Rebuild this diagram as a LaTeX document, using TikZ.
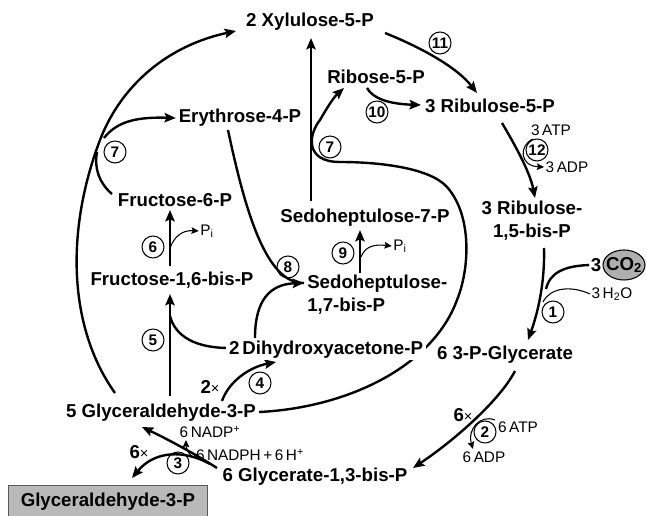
\documentclass[tikz,border=0pt]{standalone}
\usepackage{fontspec}
\setmainfont{Liberation Sans}
\usetikzlibrary{arrows.meta}
\definecolor{boxgray}{RGB}{185,185,185}
\definecolor{co2gray}{RGB}{175,175,175}
\begin{document}
\begin{tikzpicture}[x=0.75pt,y=-0.75pt,
  met/.style={font=\fontsize{14}{17}\selectfont\bfseries,inner sep=0pt},
  sm/.style={font=\fontsize{11.5}{13}\selectfont,inner sep=0pt},
  num/.style={circle,draw,line width=0.8pt,inner sep=0pt,minimum size=16.5pt,font=\fontsize{11.5}{12}\selectfont\bfseries},
  mainline/.style={line width=1.8pt},
  mainarr/.style={line width=1.8pt,-{Stealth[length=8.5pt,width=7pt,inset=1.5pt]}},
  thinline/.style={line width=0.8pt},
  thinarr/.style={line width=0.8pt,-{Stealth[length=5.5pt,width=5pt,inset=1pt]}}]
\useasboundingbox (0,0) rectangle (647,516);

% metabolites
\node[met] (xyl) at (310,22) {2 Xylulose-5-P};
\node[met] (rib) at (376,77) {Ribose-5-P};
\node[met] (ru5p) at (490,106) {3 Ribulose-5-P};
\node[met] (ery) at (240,118) {Erythrose-4-P};
\node[met] (f6p) at (175,200) {Fructose-6-P};
\node[met] (s7p) at (365,218) {Sedoheptulose-7-P};
\node[met,align=center] (rubp) at (532,221) {3 Ribulose-\\1,5-bis-P};
\node[met,align=left,anchor=west] (sbp) at (307,295) {Sedoheptulose-\\1,7-bis-P};
\node[met] (fbp) at (172,280) {Fructose-1,6-bis-P};
\node[met] (pga) at (505,355) {6 3-P-Glycerate};
\node[met] (g3p) at (161,413) {5 Glyceraldehyde-3-P};
\node[met] (bpg) at (315,477) {6 Glycerate-1,3-bis-P};
\node[met,draw=gray!70!black,line width=0.6pt,fill=boxgray,minimum width=149.25pt,minimum height=24pt,anchor=north west] (gbox) at (8,485) {Glyceraldehyde-3-P};

% cofactors
\node[sm] (atp3) at (551,130) {3\,ATP};
\node[sm] (adp3) at (567,167) {3\,ADP};
\node[sm] (atp6) at (518,427) {6\,ATP};
\node[sm] (adp6) at (484,457) {6\,ADP};
\node[sm] (nadp) at (210,432) {6\,NADP\textsuperscript{+}};
\node[sm] (nadph) at (250,455) {6\,NADPH\,+\,6\,H\textsuperscript{+}};
\node[sm] (pia) at (207,231) {P\textsubscript{i}};
\node[sm] (pib) at (400,246) {P\textsubscript{i}};
\node[sm] (h2o) at (612,294) {3\,H\textsubscript{2}O};
\node[met] (three) at (596,265) {3};
\coordinate (co2c) at (624,265);
\draw[fill=co2gray,line width=0.8pt] (co2c) ellipse [x radius=21, y radius=15];
\node[met] (co2) at (co2c) {CO\textsubscript{2}};
\node[met] (tb) at (210,387) {2{\mdseries\fontsize{11}{12}\selectfont×}};
\node[met] (tc) at (139,452) {6{\mdseries\fontsize{11}{12}\selectfont×}};
\node[met] (td) at (463,415) {6{\mdseries\fontsize{11}{12}\selectfont×}};

% enzyme numbers
\node[num] (n1) at (553,312) {1};
\node[num] (n2) at (485,432) {2};
\node[num] (n3) at (178,463) {3};
\node[num] (n4) at (260,383) {4};
\node[num] (n5) at (153,340) {5};
\node[num] (n6) at (153,247) {6};
\node[num] (n7a) at (115,152) {7};
\node[num] (n7b) at (330,147) {7};
\node[num] (n8) at (288,267) {8};
\node[num] (n9) at (343,253) {9};
\node[num] (n10) at (377,112) {10};
\node[num] (n11) at (440,43) {11};
\node[num] (n12) at (537,150) {12};

% junction coordinates
\coordinate (gA) at (115,393);
\coordinate (jB) at (100,140);
\coordinate (xylIn) at (236,31);
\coordinate (eryOut) at (104,138);
\coordinate (f6pOut) at (112,194);
\coordinate (f6pJoin) at (97,152);

% big arc G3P -> Xylulose (reaction 7, left)
\draw[mainarr] (gA) .. controls (70,330) and (64,235) .. (jB)
   .. controls (122,83) and (170,45) .. (xylIn);
\draw[mainarr] (eryOut) .. controls (118,120) and (140,117) .. ([xshift=-2pt]ery.west);
\draw[mainline] (f6pOut) .. controls (99,183) and (94,168) .. (f6pJoin);

% reaction 6
\coordinate (f6a) at (170,266);
\coordinate (f6b) at (170,248);
\draw[mainarr] (f6a) -- (170,210);
\draw[thinarr] (f6b) .. controls (174,237) and (182,230) .. ([xshift=-1pt]pia.west);

% reaction 5
\coordinate (g5) at (170,396);
\coordinate (f5) at (170,294);
\coordinate (d5) at (229,348);
\coordinate (m5) at (170,316);
\draw[mainarr] (g5) -- (f5);
\draw[mainline] (d5) .. controls (195,348) and (175,336) .. (m5);

% reaction 4
\coordinate (g4) at (222,401);
\coordinate (d4) at (276,362);
\draw[mainarr] (g4) .. controls (229,381) and (250,367) .. (d4);

% reaction 8
\coordinate (e8) at (228,130);
\coordinate (d8) at (255,338);
\coordinate (s8) at (304,283);
\draw[mainline] (e8) .. controls (245,210) and (266,284) .. (s8);
\draw[mainarr] (d8) .. controls (255,300) and (270,284) .. (s8);

% reaction 9
\coordinate (s9) at (360,273);
\coordinate (s9t) at (360,230);
\coordinate (p9) at (361,257);
\draw[mainarr] (s9) -- (s9t);
\draw[thinarr] (p9) .. controls (365,247) and (373,244) .. ([xshift=-1pt]pib.west);

% Sedoheptulose-7-P -> Xylulose
\coordinate (s7up) at (311,201);
\coordinate (xylB) at (311,38);
\draw[mainarr] (s7up) -- (xylB);

% reaction 7 (right loop)
\coordinate (gE) at (259,412);
\coordinate (l1) at (457,300);
\coordinate (l2) at (447,187);
\coordinate (l3) at (340,162);
\coordinate (l4) at (320,120);
\coordinate (ribIn) at (344,88);
\draw[mainarr] (gE) .. controls (345,408) and (432,368) .. (l1)
   .. controls (470,268) and (472,215) .. (l2)
   .. controls (430,168) and (380,162) .. (l3)
   .. controls (305,162) and (308,135) .. (l4)
   .. controls (327,108) and (333,98) .. (ribIn);

% DHAP label masks the loop behind it
\node[met,fill=white,inner xsep=2pt,inner ysep=1pt] (dhap) at (326,350) {2\,Dihydroxyacetone-P};

% reaction 10
\coordinate (r10) at (367,88);
\coordinate (u10) at (421,105);
\draw[mainarr] (r10) .. controls (373,99) and (390,104) .. (u10);

% reaction 11
\coordinate (x11) at (385,33);
\coordinate (u11) at (477,93);
\draw[mainarr] (x11) .. controls (415,45) and (455,65) .. (u11);

% reaction 12
\coordinate (u12) at (502,123);
\coordinate (b12) at (535,198);
\draw[mainarr] (u12) .. controls (515,145) and (530,172) .. (b12);
\coordinate (a12) at (533,139);
\draw[thinarr] (a12) .. controls (519,145) and (519,166) .. ([xshift=-1pt]adp3.west);

% reaction 1
\coordinate (b1) at (544,248);
\coordinate (p1) at (528,340);
\draw[mainarr] (b1) .. controls (545,285) and (537,315) .. (p1);
\coordinate (c1) at (546,289);
\draw[mainline] ([xshift=-1pt]three.west) .. controls (565,266) and (550,272) .. (c1);
\coordinate (w1) at (543,302);
\draw[thinline] ([xshift=-1pt]h2o.west) .. controls (570,285) and (550,288) .. (w1);

% reaction 2
\coordinate (p2) at (515,371);
\coordinate (b2) at (413,468);
\draw[mainarr] (p2) .. controls (500,400) and (455,440) .. (b2);
\coordinate (a2) at (495,420);
\coordinate (ad2) at (473,449);
\draw[thinarr] (a2) .. controls (480,414) and (467,430) .. (ad2);

% reaction 3
\coordinate (b3) at (217,468);
\coordinate (g3in) at (142,427);
\draw[mainarr] (b3) .. controls (192,452) and (165,438) .. (g3in);
\coordinate (h3) at (210,464);
\coordinate (box3) at (132,478);
\draw[mainarr] (h3) .. controls (185,450) and (155,450) .. (box3);
\coordinate (np3) at (192,457);
\coordinate (np3t) at (186,440);
\draw[thinarr] (np3) .. controls (188,452) and (186,448) .. (np3t);
\end{tikzpicture}
\end{document}
